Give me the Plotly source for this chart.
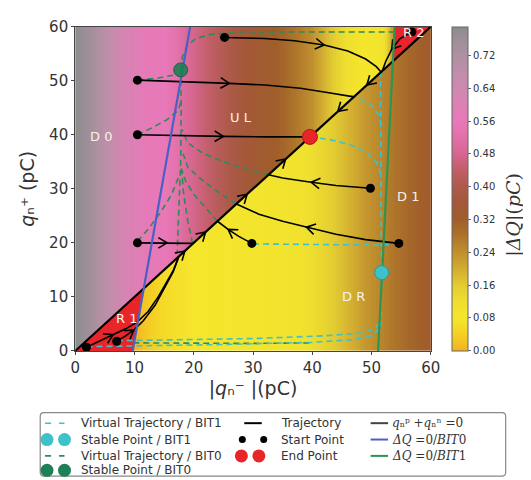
import math
import numpy as np
import plotly.graph_objects as go

# ---------------------------------------------------------------- data
ZMAX = 0.79
# |ΔQ| background: column profiles above (q+ > |q-|) and below the diagonal
upper_x = [0, 3, 6, 9, 12, 15, 17, 19, 22, 25, 28, 31, 34, 37, 40, 43, 46, 49, 52, 54, 57, 60]
upper_z = [0.79, 0.74, 0.67, 0.61, 0.57, 0.56, 0.53, 0.49, 0.45, 0.41, 0.37, 0.34, 0.32, 0.28,
           0.24, 0.17, 0.11, 0.08, 0.10, 0.27, 0.30, 0.33]
lower_x = [0, 10, 12, 15, 20, 30, 38, 42, 46, 49, 51, 53, 56, 60]
lower_z = [0.0, 0.0, 0.03, 0.06, 0.08, 0.09, 0.10, 0.14, 0.19, 0.23, 0.25, 0.27, 0.30, 0.33]
cbar_ticks = [0.00, 0.08, 0.16, 0.24, 0.32, 0.40, 0.48, 0.56, 0.64, 0.72]
cmap_vals = [0.00, 0.04, 0.08, 0.12, 0.16, 0.20, 0.24, 0.28, 0.32, 0.36, 0.40, 0.44, 0.48,
             0.52, 0.56, 0.60, 0.64, 0.68, 0.72, 0.76, 0.79]
cmap_cols = ["#f3b222", "#f4d024", "#f5e62c", "#eede30", "#e2cc31", "#d2ad31", "#c0902e",
             "#ad742a", "#a05e2a", "#a45838", "#ae5a4c", "#c05e66", "#d66690", "#e270a8",
             "#e878b8", "#dc80b4", "#cf88b0", "#bf8eaa", "#ae90a2", "#9c8f98", "#8c8c8c"]

# boundaries
diag_x, diag_y = [0, 60], [0, 60]
blue_x, blue_y = [9.7, 19.4], [0, 60]
green_x, green_y = [51.1, 53.9], [0, 60]
r1_x, r1_y = [0, 9.7, 11.6, 0], [0, 0, 11.6, 0]
r2_x, r2_y = [53.6, 53.9, 60, 53.6], [53.6, 60, 60, 53.6]

# trajectories: (x, y, index of arrow head)
trajectories = [
    ([25.2, 32, 37, 42, 46, 49, 50.8, 51.6], [58.0, 57.8, 57.4, 56.6, 55.5, 54.0, 52.6, 51.6], 3),
    ([10.5, 20, 26, 32, 38, 42, 45, 47], [50.1, 49.8, 49.5, 49.2, 48.6, 47.9, 47.3, 47.0], 2),
    ([10.5, 18, 25, 32, 39.6], [40.0, 39.8, 39.7, 39.6, 39.6], 2),
    ([49.8, 44, 39.8, 35, 32.6], [30.1, 30.6, 31.2, 32.0, 32.6], 2),
    ([54.6, 49, 44, 39, 35, 31, 27.2], [19.9, 20.6, 21.6, 22.9, 24.0, 25.3, 27.2], 3),
    ([29.8, 27.6, 25.8, 24.0], [19.9, 21.2, 22.5, 24.0], 2),
    ([10.5, 15.5, 19.8], [20.0, 20.0, 19.9], 1),
    ([56.8, 54.8, 53.4, 52.4, 51.8], [59.0, 57.8, 55.8, 53.6, 51.8], 2),
    ([1.9, 4.3, 6.4, 8.5, 10.4, 12.3, 14.0, 15.5, 16.6, 17.4],
     [0.7, 1.9, 3.0, 4.1, 5.3, 7.3, 10.0, 12.8, 15.0, 17.3], 2),
    ([7.0, 8.5, 9.9, 11.5, 13.5, 15.2, 16.5, 17.5], [1.8, 2.8, 3.9, 5.6, 8.5, 11.8, 14.6, 17.5], 2),
]
# flow along the diagonal towards the end point
diag_up = [12.0, 18.5, 22.0, 29.0, 35.5]
diag_down = [55.0, 49.2, 44.3]

# virtual trajectories, BIT1 (cyan) and BIT0 (green)
virtual_bit1 = [
    ([39.6, 43, 46.5, 49.2, 50.8, 51.5], [39.6, 39.1, 38.1, 36.7, 35.0, 33.0]),
    ([46.5, 48, 50.2, 51.3, 51.6], [47.2, 46.7, 45.2, 43.5, 42.0]),
    ([51.5, 51.5, 51.6, 51.7, 51.6, 51.5], [51.8, 40.0, 25.0, 14.5, 8.0, 3.5]),
    ([30.0, 38, 46, 51, 53.5], [19.8, 19.7, 19.6, 19.6, 19.7]),
    ([1.9, 10, 25, 40, 47, 50, 51.4], [0.8, 0.9, 1.2, 1.6, 2.1, 2.8, 4.2]),
    ([7.0, 15, 30, 42, 48, 50.5, 51.5], [1.9, 2.0, 2.3, 2.8, 3.3, 4.0, 5.5]),
]
virtual_bit0 = [
    ([17.8, 18.1, 18.9, 20.4, 23, 28, 40, 53.8], [52.0, 54.5, 56.5, 57.8, 58.6, 59.0, 59.0, 59.0]),
    ([10.5, 14, 17.4], [50.1, 50.5, 51.2]),
    ([10.5, 13, 15.5, 17.4, 17.8], [40.0, 41.3, 42.8, 44.5, 46.0]),
    ([17.8, 17.9, 17.8, 17.5, 17.2], [52.0, 45.0, 35.0, 25.0, 18.0]),
    ([32.6, 29, 25, 21.5, 19, 18], [32.6, 33.6, 35.0, 36.6, 38.5, 41.0]),
    ([27.2, 24, 21, 19, 18.2], [27.2, 29.5, 32.0, 34.0, 36.5]),
    ([24.0, 22, 20, 18.6, 18], [24.0, 26.5, 29.0, 31.5, 33.5]),
    ([10.5, 12.3, 14.3, 16.2, 17.4], [20.3, 22.5, 25.5, 28.8, 32.0]),
    ([19.8, 19.0, 18.3, 17.9], [19.9, 24.0, 29.0, 34.0]),
    ([9.8, 20, 30, 40], [1.5, 1.4, 1.4, 1.5]),
]

start_x = [25.2, 10.5, 10.5, 10.5, 29.8, 49.8, 54.6, 1.9, 7.0, 56.8]
start_y = [58.0, 50.1, 40.0, 20.0, 19.9, 30.1, 19.9, 0.7, 1.8, 59.0]
end_x, end_y = [39.6], [39.6]
stable1_x, stable1_y = [51.7], [14.5]
stable0_x, stable0_y = [17.8], [52.0]

region_labels = ["D 0", "U L", "D 1", "D R", "R 1", "R 2"]
region_x = [4.3, 28.0, 56.2, 46.9, 8.7, 57.0]
region_y = [39.7, 43.2, 28.5, 10.1, 6.0, 59.0]

# ---------------------------------------------------------------- styles
FONT = "DejaVu Sans"
CYAN = "#3fc1c9"
GREEN_D = "#2e8b57"
STABLE0 = "#1f7f55"
RED = "#e8262a"
BLUE = "#4b5fc4"
GREENL = "#2f9450"
W, H = 531, 480
PL, PR, PT, PB = 64, 430, 10, 347
XR, YR = (0, 60), (0, 60)

fig = go.Figure()

gx = np.arange(0.125, 60, 0.25)
gy = np.arange(0.125, 60, 0.25)
up = np.interp(gx, upper_x, upper_z)
lo = np.interp(gx, lower_x, lower_z)
Z = np.where(gy[:, None] > gx[None, :], up[None, :], lo[None, :])
colorscale = [[v / ZMAX, c] for v, c in zip(cmap_vals, cmap_cols)]
fig.add_trace(go.Heatmap(
    x=gx, y=gy, z=Z, zmin=0, zmax=ZMAX, colorscale=colorscale, zsmooth=False,
    hoverinfo="skip",
    colorbar=dict(x=452 / W, xanchor="left", xpad=0, ypad=0, y=1 - (PT + PB) / 2 / H,
                  yanchor="middle", len=(PB - PT) / H, lenmode="fraction", thickness=16,
                  outlinewidth=1, outlinecolor="#666", tickvals=cbar_ticks,
                  ticktext=[f"{t:.2f}" for t in cbar_ticks], ticks="outside", ticklen=3,
                  tickcolor="#666", tickfont=dict(family=FONT, size=10, color="#333")),
))

for px_, py_ in [(r1_x, r1_y), (r2_x, r2_y)]:
    fig.add_trace(go.Scatter(x=px_, y=py_, fill="toself", fillcolor=RED, mode="lines",
                             line=dict(width=0, color=RED), hoverinfo="skip"))

for vx, vy in virtual_bit0:
    fig.add_trace(go.Scatter(x=vx, y=vy, mode="lines", hoverinfo="skip",
                             line=dict(color=GREEN_D, width=1.6, dash="6px,4px")))
for vx, vy in virtual_bit1:
    fig.add_trace(go.Scatter(x=vx, y=vy, mode="lines", hoverinfo="skip",
                             line=dict(color=CYAN, width=1.6, dash="6px,4px")))


# open ">" arrow heads, oriented along the path (computed in screen space)
def to_px(x, y):
    return (PL + (x - XR[0]) / (XR[1] - XR[0]) * (PR - PL),
            PB - (y - YR[0]) / (YR[1] - YR[0]) * (PB - PT))


def to_data(px, py):
    return (XR[0] + (px - PL) / (PR - PL) * (XR[1] - XR[0]),
            YR[0] + (PB - py) / (PB - PT) * (YR[1] - YR[0]))


chev_x, chev_y = [], []


def chevron(x0, y0, x1, y1, length=9.0, half=5.5):
    p0, p1 = to_px(x0, y0), to_px(x1, y1)
    dx, dy = p1[0] - p0[0], p1[1] - p0[1]
    n = math.hypot(dx, dy)
    ux, uy = dx / n, dy / n
    a = (p1[0] - length * ux - half * uy, p1[1] - length * uy + half * ux)
    b = (p1[0] - length * ux + half * uy, p1[1] - length * uy - half * ux)
    for p in (a, p1, b):
        d = to_data(*p)
        chev_x.append(d[0])
        chev_y.append(d[1])
    chev_x.append(None)
    chev_y.append(None)


for tx, ty, k in trajectories:
    fig.add_trace(go.Scatter(x=tx, y=ty, mode="lines", hoverinfo="skip",
                             line=dict(color="black", width=1.6)))
    chevron(tx[k - 1], ty[k - 1], tx[k], ty[k])

fig.add_trace(go.Scatter(x=diag_x, y=diag_y, mode="lines", hoverinfo="skip",
                         line=dict(color="black", width=2.2)))
for seq in (diag_up, diag_down):
    for a, b in zip(seq[:-1], seq[1:]):
        chevron(a, a, b, b)

fig.add_trace(go.Scatter(x=chev_x, y=chev_y, mode="lines", hoverinfo="skip", connectgaps=False,
                         line=dict(color="black", width=1.6)))

fig.add_trace(go.Scatter(x=blue_x, y=blue_y, mode="lines", line=dict(color=BLUE, width=2.2),
                         hoverinfo="skip"))
fig.add_trace(go.Scatter(x=green_x, y=green_y, mode="lines", line=dict(color=GREENL, width=2.2),
                         hoverinfo="skip"))

fig.add_trace(go.Scatter(x=start_x, y=start_y, mode="markers", hoverinfo="skip",
                         marker=dict(color="black", size=9)))
fig.add_trace(go.Scatter(x=end_x, y=end_y, mode="markers", hoverinfo="skip",
                         marker=dict(color=RED, size=15, line=dict(color="#b01818", width=1))))
fig.add_trace(go.Scatter(x=stable1_x, y=stable1_y, mode="markers", hoverinfo="skip",
                         marker=dict(color=CYAN, size=14, line=dict(color="#1f9aa5", width=1))))
fig.add_trace(go.Scatter(x=stable0_x, y=stable0_y, mode="markers", hoverinfo="skip",
                         marker=dict(color=STABLE0, size=14, opacity=0.9,
                                     line=dict(color="#17603f", width=1))))

annotations = []
for t, x, y in zip(region_labels, region_x, region_y):
    annotations.append(dict(x=x, y=y, xref="x", yref="y", text=t, showarrow=False,
                            font=dict(family=FONT, size=13, color="#f8f2ea")))

# colorbar title
annotations.append(dict(x=515 / W, y=1 - 205 / H, xref="paper", yref="paper",
                        xanchor="center", yanchor="middle",
                        text="|<i>ΔQ</i>|(<i>pC</i>)", textangle=-90, showarrow=False,
                        font=dict(family="DejaVu Serif", size=19, color="#333")))

# ---------------------------------------------------------------- legend (drawn in a pixel-unit axis)
rows = [422, 439, 456, 471]
legend_entries = [
    # glyph x, text x, row, label, kind, colour
    (33, 68, 0, "Virtual Trajectory / BIT1", "dash", CYAN),
    (33, 68, 1, "Stable Point / BIT1", "big", CYAN),
    (33, 68, 2, "Virtual Trajectory / BIT0", "dash", GREEN_D),
    (33, 68, 3, "Stable Point / BIT0", "big", STABLE0),
    (236, 274, 0, "Trajectory", "line", "black"),
    (236, 274, 1, "Start Point", "small", "black"),
    (233, 274, 2, "End Point", "big", RED),
    (366, 388, 0, "<i>q</i>ₙᵖ +<i>q</i>ₙⁿ =0", "line", "#444"),
    (366, 388, 1, "<i>ΔQ</i> =0/<i>BIT</i>0", "line", BLUE),
    (366, 388, 2, "<i>ΔQ</i> =0/<i>BIT</i>1", "line", GREENL),
]
for gx0, txt_x, r, label, kind, col in legend_entries:
    yy = rows[r]
    if kind == "dash":
        fig.add_trace(go.Scatter(x=[gx0, gx0 + 20], y=[yy, yy], mode="lines", xaxis="x2",
                                 yaxis="y2", hoverinfo="skip",
                                 line=dict(color=col, width=1.6, dash="6px,8px")))
    elif kind == "line":
        fig.add_trace(go.Scatter(x=[gx0 + 2, gx0 + 20], y=[yy, yy], mode="lines", xaxis="x2",
                                 yaxis="y2", hoverinfo="skip",
                                 line=dict(color=col, width=2)))
    elif kind == "big":
        fig.add_trace(go.Scatter(x=[gx0 + 2, gx0 + 20], y=[yy, yy], mode="markers", xaxis="x2",
                                 yaxis="y2", hoverinfo="skip", cliponaxis=False,
                                 marker=dict(color=col, size=13)))
    else:
        fig.add_trace(go.Scatter(x=[gx0, gx0 + 22], y=[yy, yy], mode="markers", xaxis="x2",
                                 yaxis="y2", hoverinfo="skip", cliponaxis=False,
                                 marker=dict(color=col, size=7)))
    is_math = label.startswith("<i>")
    annotations.append(dict(x=txt_x, y=yy, xref="x2", yref="y2", text=label, showarrow=False,
                            xanchor="left", yanchor="middle",
                            font=dict(family="DejaVu Serif" if is_math else FONT,
                                      size=12, color="#333")))

bx0, bx1, by0, by1, rr = 28, 507, 411, 477, 4
box_path = (f"M{bx0 + rr},{by0} L{bx1 - rr},{by0} Q{bx1},{by0} {bx1},{by0 + rr} "
            f"L{bx1},{by1 - rr} Q{bx1},{by1} {bx1 - rr},{by1} L{bx0 + rr},{by1} "
            f"Q{bx0},{by1} {bx0},{by1 - rr} L{bx0},{by0 + rr} Q{bx0},{by0} {bx0 + rr},{by0} Z")
shapes = [dict(type="path", path=box_path, xref="x2", yref="y2",
               line=dict(color="#888", width=1.2), fillcolor="rgba(255,255,255,0)", layer="below")]

axis_common = dict(tickvals=[0, 10, 20, 30, 40, 50, 60], ticks="outside",
                   ticklen=3, tickcolor="#444", showgrid=False, zeroline=False, showline=True,
                   linecolor="#444", linewidth=1, mirror=True,
                   tickfont=dict(family=FONT, size=15, color="#333"))

fig.update_layout(
    width=W, height=H, margin=dict(l=0, r=0, t=0, b=0),
    paper_bgcolor="white", plot_bgcolor="white", showlegend=False,
    font=dict(family=FONT, color="#333"),
    xaxis=dict(domain=[PL / W, PR / W], anchor="y", range=list(XR),
               title=dict(text="|<i>q</i>ₙ⁻ |(pC)",
                          font=dict(family=FONT, size=19, color="#333"), standoff=2),
               **axis_common),
    yaxis=dict(domain=[1 - PB / H, 1 - PT / H], anchor="x", range=list(YR),
               title=dict(text="<i>q</i>ₙ⁺ (pC)",
                          font=dict(family=FONT, size=19, color="#333"), standoff=9),
               **axis_common),
    xaxis2=dict(domain=[0, 1], range=[0, W], visible=False, anchor="y2", fixedrange=True),
    yaxis2=dict(domain=[0, 1 - 398 / H], range=[H, 398], visible=False, anchor="x2",
                fixedrange=True),
    annotations=annotations,
    shapes=shapes,
)

fig.write_html("out.html")
